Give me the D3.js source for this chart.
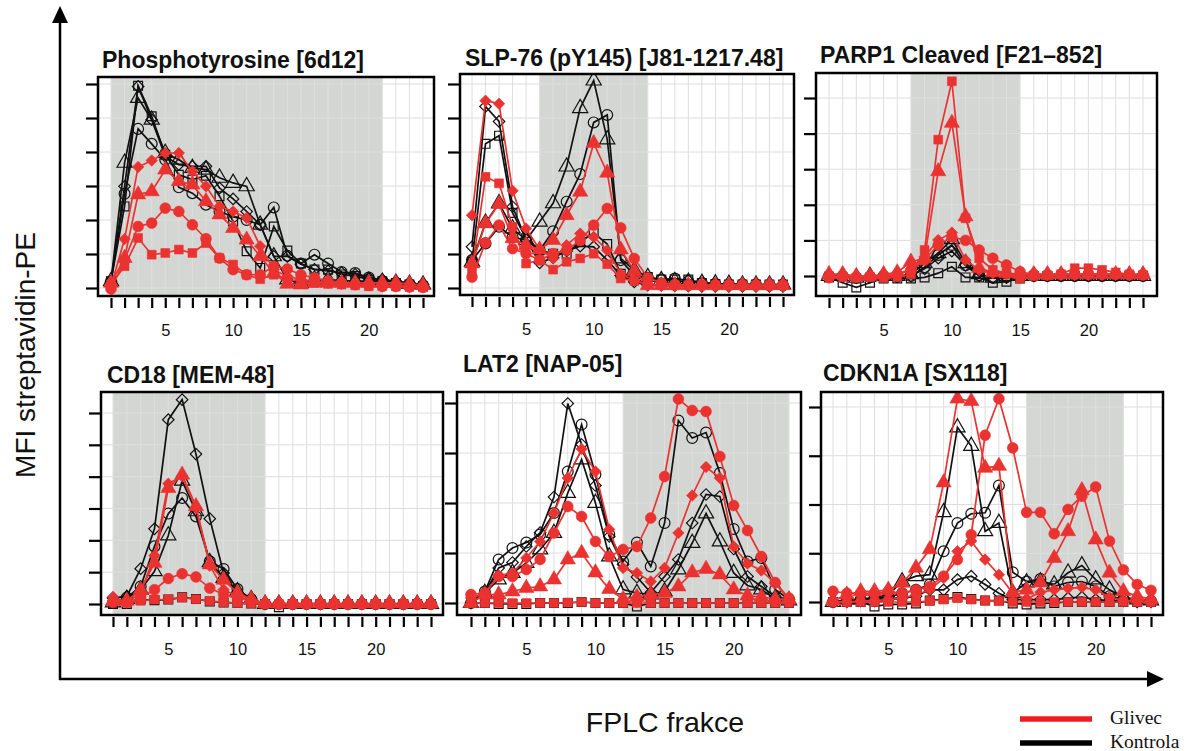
<!DOCTYPE html>
<html><head><meta charset="utf-8">
<script src="https://cdn.jsdelivr.net/npm/d3@7"></script>
<style>body{margin:0;background:#fff} svg{display:block}</style>
</head><body>
<svg id="chart" width="1188" height="751"></svg>
<script>
// ---------------- DATA ----------------
const fractions = [1,2,3,4,5,6,7,8,9,10,11,12,13,14,15,16,17,18,19,20,21,22,23,24];
const labelledFractions = [5,10,15,20];
const panelTitles = ["Phosphotyrosine [6d12]","SLP-76 (pY145) [J81-1217.48]","PARP1 Cleaved [F21\u2013852]","CD18 [MEM-48]","LAT2 [NAP-05]","CDKN1A [SX118]"];
const shadeRanges = [[1,21],[6,14],[7,15],[1,12],[12,24],[15,22]];
const yTickValues = [[0,1,2,3,4,5,6],[0,1,2,3,4,5,6],[0,1,2,3,4,5],[0,1,2,3,4,5,6],[0,1,2,3,4],[0,1,2,3,4]];
const groupNames = ["Glivec","Kontrola"];
const markerShapes = ["circle","square","triangle","diamond"];
const xAxisTitle = "FPLC frakce";
const yAxisTitle = "MFI streptavidin-PE";

// Panel 1: Phosphotyrosine [6d12]
const phosGlivecCircle   = [-0.03,0.83,1.81,1.91,2.35,2.25,1.86,1.45,0.88,0.54,0.39,0.39,0.64,0.56,0.39,0.3,0.2,0.15,0.1,0.08,0.05,0.05,0.03,0.02];
const phosGlivecSquare   = [0.1,0.64,1.47,0.98,1.03,1.13,1.03,1.32,0.88,0.69,0.39,0.26,0.39,0.25,0.2,0.15,0.12,0.1,0.08,0.05,0.05,0.04,0.03,0.02];
const phosGlivecTriangle = [0.15,0.88,2.75,2.84,3.48,3.14,3.04,2.55,2.16,1.76,1.42,0.93,0.44,0.12,0.1,0.15,0.15,0.15,0.15,0.15,0.15,0.15,0.12,0.08];
const phosGlivecDiamond  = [0.05,1.44,3.56,3.75,3.97,3.97,3.43,2.99,2.4,2.25,2.06,1.23,0.54,0.34,0.25,0.2,0.15,0.12,0.1,0.08,0.05,0.05,0.04,0.03];
const phosKontrolaCircle   = [0.2,2.77,4.68,4.24,3.77,2.96,2.79,2.45,2.25,2.1,2.0,1.86,2.37,0.95,0.72,0.98,0.72,0.47,0.44,0.31,0.2,0.15,0.12,0.08];
const phosKontrolaSquare   = [0.2,2.4,5.95,5.05,3.92,3.33,3.19,3.3,2.7,1.96,1.08,0.59,1.81,1.1,0.72,0.54,0.54,0.4,0.35,0.25,0.2,0.15,0.1,0.05];
const phosKontrolaTriangle = [0.2,3.68,5.59,4.95,3.97,3.77,3.53,3.48,3.24,3.09,2.99,1.86,0.93,0.25,0.15,0.25,0.25,0.22,0.2,0.2,0.18,0.15,0.12,0.1];
const phosKontrolaDiamond  = [0.2,2.99,5.93,4.95,3.87,3.63,3.58,3.58,2.94,2.62,2.25,1.86,0.93,0.93,0.7,0.55,0.5,0.45,0.4,0.3,0.25,0.2,0.15,0.1];

// Panel 2: SLP-76 (pY145)
const slpGlivecCircle   = [0.32,1.33,1.85,1.16,1.01,0.82,1.01,1.11,1.4,1.85,2.34,1.77,0.87,0.3,0.15,0.1,0.08,0.08,0.08,0.08,0.08,0.08,0.08,0.08];
const slpGlivecSquare   = [0.52,3.27,3.08,1.8,0.72,0.82,0.54,0.77,0.87,1.01,0.7,0.28,0.21,0.13,0.08,0.08,0.08,0.08,0.08,0.08,0.08,0.08,0.08,0.08];
const slpGlivecTriangle = [0.72,1.9,2.47,1.46,1.26,1.13,1.41,2.14,2.83,4.26,3.39,1.13,0.5,0.08,0.08,0.08,0.08,0.08,0.08,0.08,0.08,0.08,0.08,0.08];
const slpGlivecDiamond  = [2.14,5.51,5.42,2.86,1.75,1.13,0.87,1.26,1.6,1.5,1.11,0.42,0.23,0.08,0.06,0.05,0.05,0.05,0.05,0.05,0.05,0.05,0.05,0.05];
const slpKontrolaCircle   = [0.82,1.31,1.8,1.5,1.41,1.11,1.67,2.54,3.35,4.87,5.09,0.82,0.37,0.3,0.25,0.28,0.2,0.15,0.12,0.1,0.1,0.1,0.08,0.08];
const slpKontrolaSquare   = [0.77,4.24,4.48,2.21,1.46,1.11,1.01,1.01,1.36,1.62,1.29,0.42,0.28,0.32,0.25,0.25,0.25,0.15,0.12,0.1,0.1,0.1,0.1,0.1];
const slpKontrolaTriangle = [0.77,1.92,2.49,1.75,1.41,1.95,2.49,3.57,5.29,6.1,4.37,0.87,0.52,0.32,0.23,0.2,0.18,0.15,0.13,0.12,0.1,0.1,0.1,0.1];
const slpKontrolaDiamond  = [1.21,5.34,4.9,2.39,1.43,0.74,0.89,1.09,1.23,1.21,0.82,0.37,0.18,0.08,0.08,0.07,0.06,0.05,0.05,0.05,0.05,0.05,0.05,0.05];

// Panel 3: PARP1 Cleaved
const parpGlivecCircle   = [-0.05,0.0,-0.03,0.0,-0.02,0.05,0.15,0.45,0.87,1.1,1.0,0.73,0.5,0.31,0.12,0.05,0.03,0.05,0.05,0.05,0.05,0.05,0.03,0.03];
const parpGlivecSquare   = [0.0,-0.03,-0.05,-0.03,-0.05,-0.03,0.05,0.73,3.83,5.47,1.62,0.5,0.17,0.08,-0.07,0.0,0.02,0.05,0.22,0.22,0.17,0.1,0.05,0.03];
const parpGlivecTriangle = [0.05,0.05,0.0,0.0,0.05,0.1,0.4,0.5,2.94,4.3,1.67,0.22,0.1,0.08,0.05,0.05,0.05,0.05,0.05,0.05,0.05,0.05,0.05,0.05];
const parpGlivecDiamond  = [0.0,0.0,-0.02,0.0,0.0,0.05,0.2,0.54,1.01,1.22,0.45,0.17,0.08,0.05,0.03,0.03,0.03,0.03,0.03,0.03,0.03,0.03,0.03,0.03];
const parpKontrolaCircle   = [0.0,0.0,-0.05,-0.03,0.0,-0.02,0.0,0.25,0.59,0.87,0.3,0.02,-0.05,-0.03,0.0,0.0,0.0,0.0,0.0,0.0,0.0,0.0,0.0,0.0];
const parpKontrolaSquare   = [-0.04,-0.19,-0.32,-0.19,-0.07,-0.07,-0.07,-0.04,0.08,0.26,-0.04,-0.04,-0.19,-0.16,-0.07,0.0,0.0,0.0,0.0,0.0,0.0,0.0,0.0,0.0];
const parpKontrolaTriangle = [0.0,0.0,-0.05,0.0,0.0,0.0,0.05,0.36,0.64,1.03,0.36,0.05,-0.05,0.0,0.0,0.0,0.0,0.0,0.0,0.0,0.0,0.0,0.0,0.0];
const parpKontrolaDiamond  = [0.0,-0.02,-0.05,-0.03,-0.02,-0.02,0.0,0.2,0.5,0.7,0.3,0.0,-0.05,-0.05,-0.02,0.0,0.0,0.0,0.0,0.0,0.0,0.0,0.0,0.0];

// Panel 4: CD18 [MEM-48]
const cd18GlivecCircle   = [0.05,0.05,0.2,0.45,0.8,0.95,0.85,0.5,0.3,0.2,0.1,0.02,0.0,0.0,0.0,0.0,0.0,0.0,0.0,0.0,0.0,0.0,0.0,0.0];
const cd18GlivecSquare   = [0.08,0.05,0.1,0.14,0.15,0.2,0.15,0.1,0.05,0.03,0.02,0.0,0.0,0.0,0.0,0.0,0.0,0.0,0.0,0.0,0.0,0.0,0.0,0.0];
const cd18GlivecTriangle = [0.1,0.1,0.45,1.29,3.64,4.06,3.07,1.24,0.76,0.35,0.15,0.02,0.02,0.02,0.02,0.02,0.02,0.02,0.02,0.02,0.02,0.02,0.02,0.02];
const cd18GlivecDiamond  = [0.22,0.05,0.35,1.52,3.78,4.01,3.02,1.2,0.45,0.25,0.1,0.0,0.0,0.0,0.0,0.0,0.0,0.0,0.0,0.0,0.0,0.0,0.0,0.0];
const cd18KontrolaCircle   = [0.05,0.2,0.55,1.81,2.84,3.33,2.75,1.34,1.1,0.47,0.15,0.0,0.0,0.0,0.0,0.0,0.0,0.0,0.0,0.0,0.0,0.0,0.0,0.0];
const cd18KontrolaSquare   = [0.0,0.0,0.14,0.12,0.14,0.21,0.16,0.08,0.05,0.03,0.02,0.0,-0.1,0.0,0.0,0.0,0.0,0.0,0.0,0.0,0.0,0.0,0.0,0.0];
const cd18KontrolaTriangle = [0.05,0.16,0.45,1.03,2.15,3.87,2.91,1.31,0.82,0.4,0.15,0.0,0.0,0.0,0.0,0.0,0.0,0.0,0.0,0.0,0.0,0.0,0.0,0.0];
const cd18KontrolaDiamond  = [0.19,0.24,1.11,2.36,5.79,6.42,4.71,2.68,0.97,0.35,0.16,0.0,0.0,0.0,0.0,0.0,0.0,0.0,0.0,0.0,0.0,0.0,0.0,0.0];

// Panel 5: LAT2 [NAP-05]
const lat2GlivecCircle   = [0.17,0.2,0.53,0.53,0.67,0.87,1.4,1.93,1.73,1.23,0.93,1.07,1.13,1.7,2.53,4.08,3.85,3.83,2.93,1.95,1.45,0.93,0.41,0.1];
const lat2GlivecSquare   = [0.0,0.0,0.0,0.0,0.0,0.0,0.0,0.01,0.02,0.0,0.0,0.0,0.0,0.0,0.0,0.0,0.0,0.0,0.0,0.0,0.0,0.0,0.0,0.0];
const lat2GlivecTriangle = [0.0,0.17,0.17,0.23,0.3,0.33,0.47,0.87,1.0,0.61,0.28,0.08,0.12,0.17,0.2,0.33,0.61,0.68,0.57,0.27,0.15,0.12,0.08,0.07];
const lat2GlivecDiamond  = [0.1,0.2,0.55,0.6,0.9,1.23,1.8,2.5,3.08,2.63,1.47,0.7,0.6,0.43,0.7,1.4,2.15,2.72,2.5,1.13,0.79,0.65,0.39,0.07];
const lat2KontrolaCircle   = [0.0,0.23,0.87,1.1,1.21,1.37,1.8,2.63,3.57,2.57,1.37,0.83,1.21,0.73,1.6,3.65,3.3,3.41,2.6,1.48,0.83,0.9,0.27,0.07];
const lat2KontrolaSquare   = [0.0,0.0,-0.02,-0.02,-0.02,0.0,0.0,0.0,0.02,0.0,0.0,0.0,-0.07,0.0,0.0,0.0,0.0,0.0,0.0,0.0,0.0,0.0,0.0,0.0];
const lat2KontrolaTriangle = [0.0,0.2,0.47,0.6,0.8,1.07,1.4,2.2,2.87,2.0,0.93,0.27,0.2,0.17,0.23,0.67,1.2,1.79,1.23,0.6,0.35,0.27,0.08,0.05];
const lat2KontrolaDiamond  = [0.0,0.2,0.7,0.81,1.13,1.41,2.12,3.99,3.17,2.35,1.33,0.77,0.52,0.21,0.53,0.87,1.6,2.17,2.13,1.08,0.53,0.33,0.13,0.07];

// Panel 6: CDKN1A [SX118]
const cdknGlivecCircle   = [0.22,0.18,0.18,0.18,0.22,0.18,0.25,0.32,0.53,0.87,1.38,3.42,4.17,3.16,1.84,1.84,1.4,1.9,2.17,2.36,1.25,0.66,0.36,0.24];
const cdknGlivecSquare   = [0.0,0.0,0.0,0.0,0.0,0.0,0.0,0.02,0.05,0.08,0.05,0.03,0.02,0.0,0.0,0.0,0.0,0.0,0.0,0.0,0.0,0.0,0.0,0.0];
const cdknGlivecTriangle = [0.03,0.15,0.22,0.22,0.25,0.39,0.7,1.08,2.45,4.17,4.12,2.75,2.79,0.2,0.25,0.4,0.9,1.45,2.29,1.28,0.6,0.22,0.12,0.06];
const cdknGlivecDiamond  = [0.0,0.0,0.02,0.03,0.05,0.08,0.15,0.25,0.49,1.04,1.25,0.87,0.56,0.18,0.06,0.2,0.25,0.28,0.3,0.25,0.1,0.03,0.02,0.0];
const cdknKontrolaCircle   = [0.0,0.02,0.05,0.08,0.1,0.18,0.25,0.36,1.04,1.62,1.81,1.83,2.39,0.61,0.42,0.47,0.32,0.4,0.42,0.32,0.12,0.05,0.03,0.02];
const cdknKontrolaSquare   = [0.0,0.0,0.0,-0.09,-0.05,-0.05,-0.03,0.03,0.06,0.1,0.06,0.03,0.03,-0.03,-0.05,-0.03,-0.02,0.0,0.0,0.0,0.0,0.0,0.0,0.0];
const cdknKontrolaTriangle = [0.0,0.05,0.05,0.1,0.15,0.42,0.53,0.56,1.84,3.58,3.2,1.45,1.62,0.18,0.4,0.42,0.36,0.6,0.75,0.46,0.25,0.1,0.05,0.03];
const cdknKontrolaDiamond  = [0.0,0.0,0.02,0.03,0.05,0.08,0.12,0.25,0.25,0.46,0.53,0.36,0.18,0.05,0.05,0.05,0.05,0.08,0.1,0.05,0.03,0.02,0.0,0.0];

const panelSeries = [
  {Glivec:[phosGlivecCircle,phosGlivecSquare,phosGlivecTriangle,phosGlivecDiamond], Kontrola:[phosKontrolaCircle,phosKontrolaSquare,phosKontrolaTriangle,phosKontrolaDiamond]},
  {Glivec:[slpGlivecCircle,slpGlivecSquare,slpGlivecTriangle,slpGlivecDiamond], Kontrola:[slpKontrolaCircle,slpKontrolaSquare,slpKontrolaTriangle,slpKontrolaDiamond]},
  {Glivec:[parpGlivecCircle,parpGlivecSquare,parpGlivecTriangle,parpGlivecDiamond], Kontrola:[parpKontrolaCircle,parpKontrolaSquare,parpKontrolaTriangle,parpKontrolaDiamond]},
  {Glivec:[cd18GlivecCircle,cd18GlivecSquare,cd18GlivecTriangle,cd18GlivecDiamond], Kontrola:[cd18KontrolaCircle,cd18KontrolaSquare,cd18KontrolaTriangle,cd18KontrolaDiamond]},
  {Glivec:[lat2GlivecCircle,lat2GlivecSquare,lat2GlivecTriangle,lat2GlivecDiamond], Kontrola:[lat2KontrolaCircle,lat2KontrolaSquare,lat2KontrolaTriangle,lat2KontrolaDiamond]},
  {Glivec:[cdknGlivecCircle,cdknGlivecSquare,cdknGlivecTriangle,cdknGlivecDiamond], Kontrola:[cdknKontrolaCircle,cdknKontrolaSquare,cdknKontrolaTriangle,cdknKontrolaDiamond]}
];

// ---------------- LAYOUT / STYLE ----------------
const layout = [
  {x0:98, x1:434, y0:77, y1:296, xa:111, xb:423, ya:288, yb:84, tx:102, ty:68},
  {x0:460,x1:794, y0:74, y1:295, xa:472, xb:783, ya:288, yb:84, tx:465, ty:66},
  {x0:816,x1:1157,y0:73, y1:296, xa:829, xb:1143,ya:276, yb:98, tx:820, ty:63},
  {x0:101,x1:443, y0:392,y1:615, xa:113, xb:431, ya:604, yb:413,tx:107, ty:383},
  {x0:457,x1:801, y0:392,y1:615, xa:471, xb:789, ya:603, yb:403,tx:463, ty:372},
  {x0:821,x1:1163,y0:392,y1:615, xa:833, xb:1151,ya:602, yb:407,tx:823, ty:381}
];
const RED = "#ea3330", BLACK = "#111";
const groupColor = {Glivec: RED, Kontrola: BLACK};
const legendColor = {Glivec: "#ee1c1c", Kontrola: "#000"};
const SANS = "'Liberation Sans', Arial, Helvetica, sans-serif";
const SERIF = "'Liberation Serif', 'Times New Roman', serif";

const svg = d3.select("#chart");

const symbolFor = {
  circle:   d3.symbol().type(d3.symbolCircle).size(92),
  square:   d3.symbol().type(d3.symbolSquare).size(78),
  triangle: d3.symbol().type(d3.symbolTriangle).size(100),
  diamond:  d3.symbol().type(d3.symbolSquare).size(66)
};

layout.forEach((L, i) => {
  const g = svg.append("g");
  const x = d3.scaleLinear().domain([fractions[0], fractions[fractions.length-1]]).range([L.xa, L.xb]);
  const ticks = yTickValues[i];
  const y = d3.scaleLinear().domain([ticks[0], ticks[ticks.length-1]]).range([L.ya, L.yb]);

  // shade
  const [s0, s1] = shadeRanges[i];
  g.append("rect").attr("x", x(s0)).attr("y", L.y0).attr("width", x(s1) - x(s0)).attr("height", L.y1 - L.y0)
    .attr("fill", "#d4d6d4");

  // grid
  g.append("g").selectAll("line.v").data(fractions).join("line")
    .attr("x1", d => x(d)).attr("x2", d => x(d)).attr("y1", L.y0).attr("y2", L.y1)
    .attr("stroke", "#dedede").attr("stroke-width", 1);
  g.append("g").selectAll("line.h").data(ticks).join("line")
    .attr("x1", L.x0).attr("x2", L.x1).attr("y1", d => y(d)).attr("y2", d => y(d))
    .attr("stroke", "#dedede").attr("stroke-width", 1);

  // series
  const clipId = "clip" + i;
  svg.append("clipPath").attr("id", clipId).append("rect")
    .attr("x", L.x0).attr("y", L.y0).attr("width", L.x1 - L.x0).attr("height", L.y1 - L.y0);
  const plot = g.append("g").attr("clip-path", `url(#${clipId})`);
  const line = d3.line().x((d, k) => x(fractions[k])).y(d => y(d));
  ["Kontrola", "Glivec"].forEach(grp => {
    panelSeries[i][grp].forEach((vals, si) => {
      const shape = markerShapes[si];
      const sg = plot.append("g");
      sg.append("path").attr("d", line(vals)).attr("fill", "none")
        .attr("stroke", groupColor[grp]).attr("stroke-width", 1.7);
      sg.selectAll("path.m").data(vals).join("path")
        .attr("d", symbolFor[shape])
        .attr("transform", (d, k) => `translate(${x(fractions[k])},${y(d)})` + (shape === "diamond" ? " rotate(45)" : ""))
        .attr("fill", grp === "Glivec" ? RED : "none")
        .attr("stroke", grp === "Glivec" ? RED : BLACK)
        .attr("stroke-width", grp === "Glivec" ? 0.6 : 1.2);
    });
  });

  // box
  g.append("rect").attr("x", L.x0).attr("y", L.y0).attr("width", L.x1 - L.x0).attr("height", L.y1 - L.y0)
    .attr("fill", "none").attr("stroke", "#000").attr("stroke-width", 2.5);

  // y axis ticks
  const yAxis = d3.axisLeft(y).tickValues(ticks).tickFormat("").tickSize(11).tickSizeOuter(0);
  const ya = g.append("g").attr("transform", `translate(${L.x0 - 1},0)`).call(yAxis);
  ya.select(".domain").remove();
  ya.selectAll(".tick line").attr("stroke", "#000").attr("stroke-width", 2.2);

  // x axis ticks
  const xAxis = d3.axisBottom(x).tickValues(fractions)
    .tickFormat(d => labelledFractions.includes(d) ? d : "").tickSize(10).tickPadding(16).tickSizeOuter(0);
  const xa = g.append("g").attr("transform", `translate(0,${L.y1 + 2})`).call(xAxis);
  xa.select(".domain").remove();
  xa.selectAll(".tick line").attr("stroke", "#000").attr("stroke-width", 2.2);
  xa.selectAll(".tick text").attr("font-family", SANS).attr("font-size", 16.5).attr("fill", "#111");

  // title
  g.append("text").attr("x", L.tx).attr("y", L.ty).text(panelTitles[i])
    .attr("font-family", SANS).attr("font-weight", "bold").attr("font-size", 23).attr("fill", "#111");
});

// outer axes with arrows
svg.append("line").attr("x1", 60).attr("x2", 60).attr("y1", 680).attr("y2", 20).attr("stroke", "#000").attr("stroke-width", 2.5);
svg.append("path").attr("d", "M52,23 L68,23 L60,6 Z").attr("fill", "#000");
svg.append("line").attr("x1", 59).attr("x2", 1150).attr("y1", 679).attr("y2", 679).attr("stroke", "#000").attr("stroke-width", 2.5);
svg.append("path").attr("d", "M1147,671 L1147,687 L1164,679 Z").attr("fill", "#000");

svg.append("text").attr("x", 665).attr("y", 732).attr("text-anchor", "middle").text(xAxisTitle)
  .attr("font-family", SANS).attr("font-size", 28.5).attr("fill", "#111");
svg.append("text").attr("transform", "translate(35,355) rotate(-90)").attr("text-anchor", "middle").text(yAxisTitle)
  .attr("font-family", SANS).attr("font-size", 28).attr("fill", "#111");

// legend
const legendY = [719, 743];
const legendTextY = [724, 748];
groupNames.forEach((name, k) => {
  svg.append("line").attr("x1", 1020).attr("x2", 1092).attr("y1", legendY[k]).attr("y2", legendY[k])
    .attr("stroke", legendColor[name]).attr("stroke-width", 5.5);
  svg.append("text").attr("x", 1110).attr("y", legendTextY[k]).text(name)
    .attr("font-family", SERIF).attr("font-size", 19.5).attr("fill", "#111");
});
</script>
</body></html>
